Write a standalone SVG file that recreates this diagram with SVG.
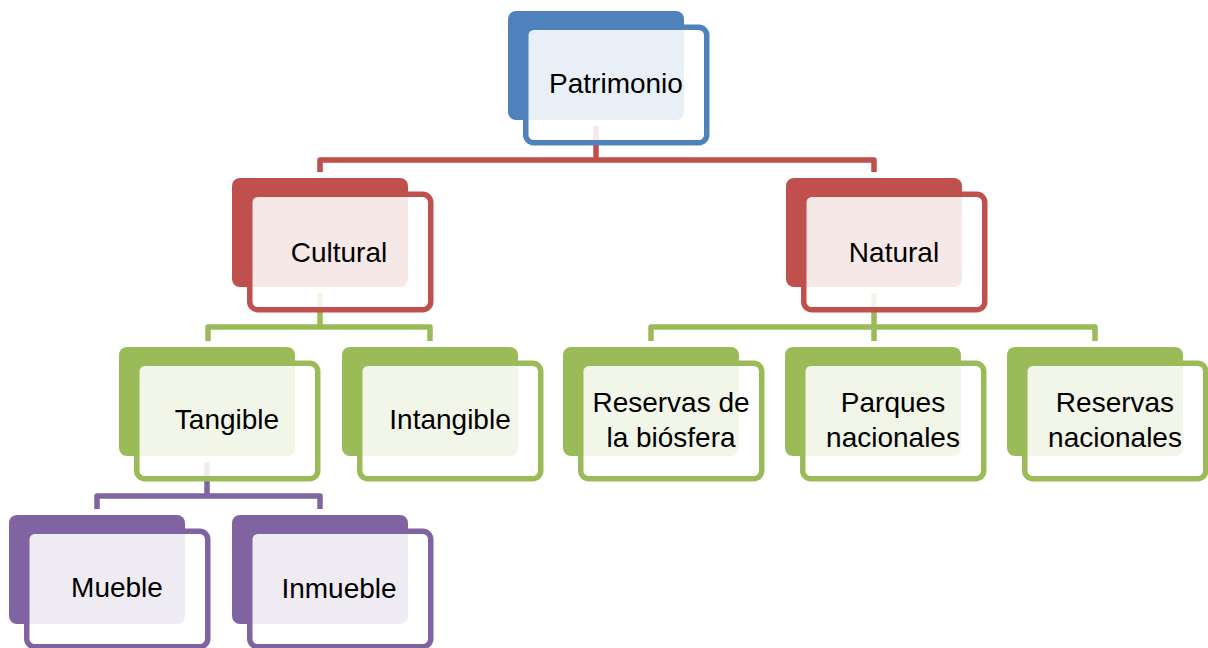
<svg xmlns="http://www.w3.org/2000/svg" width="1208" height="648" viewBox="0 0 1208 648">
<style>
.bg{fill:#ffffff}
.back{stroke:none}
.front{fill:#ffffff;fill-opacity:0.87;stroke-width:5.5}
.t{font-family:"Liberation Sans",Arial,sans-serif;font-size:28px;fill:#000000;text-anchor:middle}
.conn{fill:none;stroke-width:5.5;stroke-linejoin:round;stroke-linecap:butt}
.blue .back{fill:#4f81bd}.blue .front{stroke:#4f81bd}
.red .back{fill:#c0504d}.red .front{stroke:#c0504d}
.green .back{fill:#9bbb59}.green .front{stroke:#9bbb59}
.purple .back{fill:#8064a2}.purple .front{stroke:#8064a2}
</style>
<rect class="bg" x="0" y="0" width="1208" height="648"/>
<g id="connectors">
<path class="conn" stroke="#c0504d" d="M320,172 V160 H874 V172 M596,126 V160"/>
<path class="conn" stroke="#9bbb59" d="M208,341 V327 H430 V341 M320,293 V327"/>
<path class="conn" stroke="#9bbb59" d="M651,341 V327 H1095 V341 M874,341 V327 M874,293 V327"/>
<path class="conn" stroke="#8064a2" d="M97,509 V496 H320 V509 M207,462 V496"/>
</g>
<g id="n-patrimonio" class="blue" transform="translate(508,11)">
<rect class="back" width="176" height="109" rx="8"/>
<rect class="front" x="17.75" y="16.25" width="181" height="115.5" rx="8"/>
<text class="t" x="108" y="82">Patrimonio</text>
</g>
<g id="n-cultural" class="red" transform="translate(232,178)">
<rect class="back" width="176" height="109" rx="8"/>
<rect class="front" x="17.75" y="16.25" width="181" height="115.5" rx="8"/>
<text class="t" x="107" y="84">Cultural</text>
</g>
<g id="n-natural" class="red" transform="translate(786,178)">
<rect class="back" width="176" height="109" rx="8"/>
<rect class="front" x="17.75" y="16.25" width="181" height="115.5" rx="8"/>
<text class="t" x="108" y="84">Natural</text>
</g>
<g id="n-tangible" class="green" transform="translate(119,347)">
<rect class="back" width="176" height="109" rx="8"/>
<rect class="front" x="17.75" y="16.25" width="181" height="115.5" rx="8"/>
<text class="t" x="108" y="82">Tangible</text>
</g>
<g id="n-intangible" class="green" transform="translate(342,347)">
<rect class="back" width="176" height="109" rx="8"/>
<rect class="front" x="17.75" y="16.25" width="181" height="115.5" rx="8"/>
<text class="t" x="108" y="82">Intangible</text>
</g>
<g id="n-reservas-biosfera" class="green" transform="translate(563,347)">
<rect class="back" width="176" height="109" rx="8"/>
<rect class="front" x="17.75" y="16.25" width="181" height="115.5" rx="8"/>
<text class="t" x="108" y="65">Reservas de</text>
<text class="t" x="108" y="100">la biósfera</text>
</g>
<g id="n-parques" class="green" transform="translate(785,347)">
<rect class="back" width="176" height="109" rx="8"/>
<rect class="front" x="17.75" y="16.25" width="181" height="115.5" rx="8"/>
<text class="t" x="108" y="65">Parques</text>
<text class="t" x="108" y="100">nacionales</text>
</g>
<g id="n-reservas-nacionales" class="green" transform="translate(1007,347)">
<rect class="back" width="176" height="109" rx="8"/>
<rect class="front" x="17.75" y="16.25" width="181" height="115.5" rx="8"/>
<text class="t" x="108" y="65">Reservas</text>
<text class="t" x="108" y="100">nacionales</text>
</g>
<g id="n-mueble" class="purple" transform="translate(9,515)">
<rect class="back" width="176" height="109" rx="8"/>
<rect class="front" x="17.75" y="16.25" width="181" height="115.5" rx="8"/>
<text class="t" x="108" y="82">Mueble</text>
</g>
<g id="n-inmueble" class="purple" transform="translate(232,515)">
<rect class="back" width="176" height="109" rx="8"/>
<rect class="front" x="17.75" y="16.25" width="181" height="115.5" rx="8"/>
<text class="t" x="107" y="83">Inmueble</text>
</g>
</svg>
